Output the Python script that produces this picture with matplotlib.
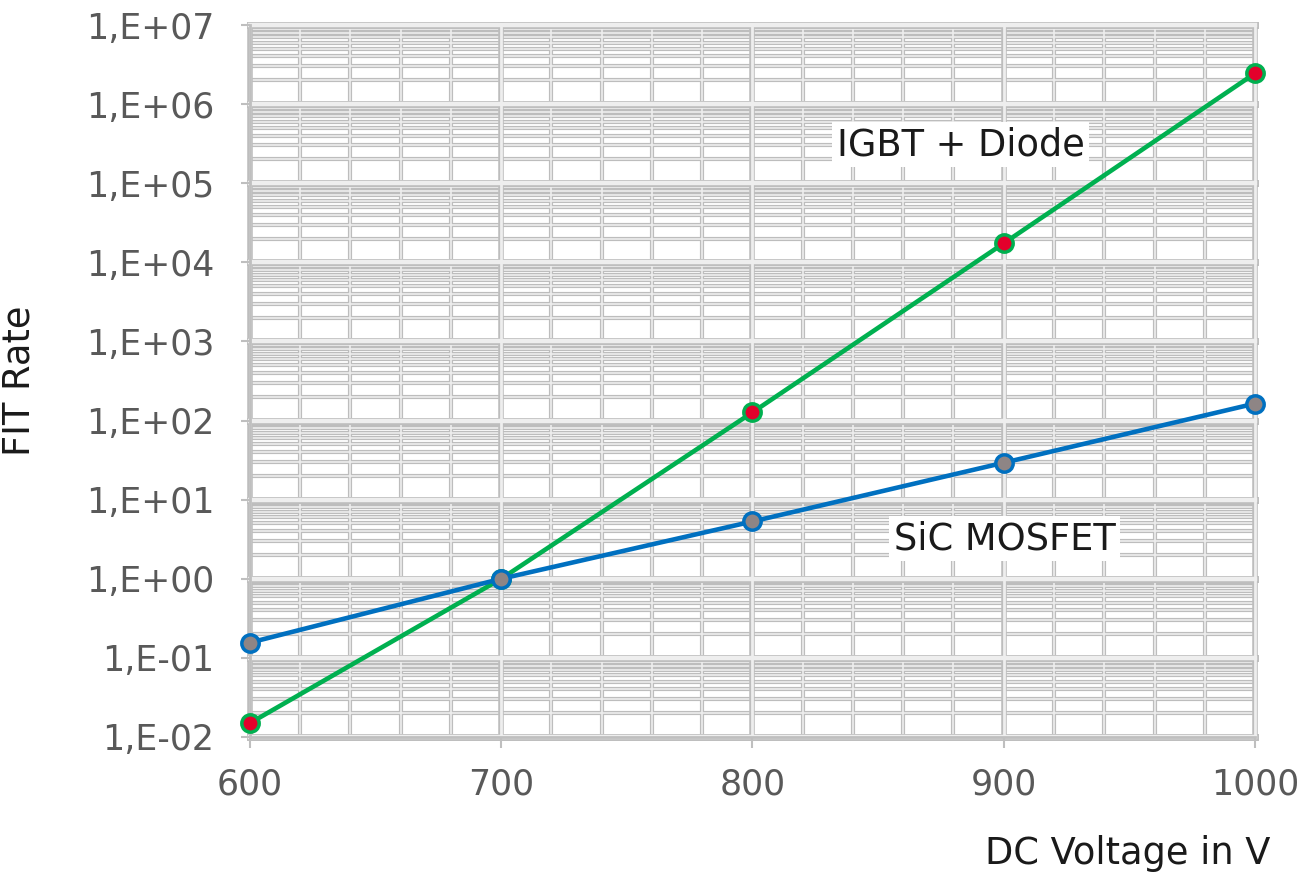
import numpy as np
import matplotlib
matplotlib.use("Agg")
import matplotlib.pyplot as plt
from matplotlib.ticker import FixedLocator, FuncFormatter, NullFormatter

# DC link voltage (V) and failure-in-time rates
voltage = [600, 700, 800, 900, 1000]
fit_igbt = [0.015, 1.0, 127, 17400, 2.45e6]
fit_sic = [0.156, 1.0, 5.3, 29.3, 164]

x_ticks = [600, 700, 800, 900, 1000]
decades = list(range(-2, 8))

fig = plt.figure(figsize=(13.06, 8.72), dpi=100)
ax = fig.add_axes([0.19142, 0.15482, 0.76953, 0.81651])
ax.set_yscale("log")
ax.set_xlim(600, 1000)
ax.set_ylim(1e-2, 1e7)

# Excel-style double-edged gridlines
edge_c, fill_c = "#bdbdbd", "#eeeeee"
minor_y = [m * 10.0 ** d for d in decades[:-1] for m in range(2, 10)]
major_y = [10.0 ** d for d in decades]
minor_x = [v for v in range(600, 1001, 20) if v % 100]
major_x = x_ticks

for y in minor_y:
    ax.axhline(y, color=edge_c, lw=3.0, zorder=0.5)
    ax.axhline(y, color=fill_c, lw=1.2, zorder=0.6)
for x in minor_x:
    ax.axvline(x, color=edge_c, lw=3.0, zorder=0.5)
    ax.axvline(x, color=fill_c, lw=1.2, zorder=0.6)
for y in major_y:
    ax.axhline(y, color=edge_c, lw=5.0, zorder=0.7, clip_on=False)
    ax.axhline(y, color=fill_c, lw=3.2, zorder=0.8, clip_on=False)
for x in major_x:
    ax.axvline(x, color=edge_c, lw=4.0, zorder=0.7, clip_on=False)
    ax.axvline(x, color=fill_c, lw=2.0, zorder=0.8, clip_on=False)

ax.plot(voltage, fit_igbt, color="#00b050", lw=3.3, marker="o",
        markersize=12.5, markerfacecolor="#e3002b", markeredgecolor="#00b050",
        markeredgewidth=2.5, zorder=3, clip_on=False)
ax.plot(voltage, fit_sic, color="#0070c0", lw=3.3, marker="o",
        markersize=12.5, markerfacecolor="#8e8585", markeredgecolor="#0070c0",
        markeredgewidth=2.5, zorder=4, clip_on=False)

for side in ("top", "right"):
    ax.spines[side].set_visible(False)
for side in ("left", "bottom"):
    ax.spines[side].set_color("#bfbfbf")
    ax.spines[side].set_linewidth(2.0)
    ax.spines[side].set_zorder(1)

ax.yaxis.set_major_locator(FixedLocator(major_y))
ax.yaxis.set_minor_locator(FixedLocator([]))
ax.yaxis.set_minor_formatter(NullFormatter())
ax.yaxis.set_major_formatter(FuncFormatter(
    lambda v, p: "1,E{:+03d}".format(int(round(np.log10(v))))))
ax.xaxis.set_major_locator(FixedLocator(x_ticks))
ax.xaxis.set_minor_locator(FixedLocator([]))

ax.tick_params(axis="y", which="major", length=6.5, width=1.5,
               color="#bfbfbf", labelsize=25, labelcolor="#595959", pad=19)
ax.tick_params(axis="x", which="major", length=8, width=1.5,
               color="#bfbfbf", labelsize=25, labelcolor="#595959", pad=14)

ax.set_ylabel("FIT Rate", fontsize=26.5, color="#1a1a1a")
ax.yaxis.set_label_coords(-0.211, 0.5)
fig.text(1270 / 1306, 8 / 872, "DC Voltage in V", fontsize=26.5,
         color="#1a1a1a", ha="right", va="baseline")

box = dict(boxstyle="square,pad=0.12", facecolor="white", edgecolor="none")
ax.text(0.707, 0.8174, "IGBT + Diode", transform=ax.transAxes,
        fontsize=26.5, color="#1a1a1a", ha="center", va="baseline",
        bbox=box, zorder=5)
ax.text(0.7508, 0.264, "SiC MOSFET", transform=ax.transAxes,
        fontsize=26.5, color="#1a1a1a", ha="center", va="baseline",
        bbox=box, zorder=5)

fig.savefig("out.png", dpi=100, facecolor="white")
